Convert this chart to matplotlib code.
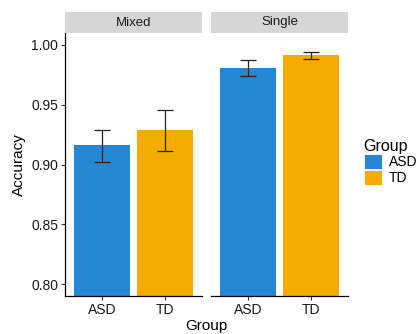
import matplotlib
matplotlib.use("Agg")
import matplotlib.pyplot as plt
from matplotlib.patches import Patch

plt.rcParams['font.family'] = ['Liberation Sans', 'DejaVu Sans']

# data
panels = ["Mixed", "Single"]
groups = ["ASD", "TD"]
acc_mixed = [0.916, 0.929]
lo_mixed = [0.902, 0.9115]
hi_mixed = [0.929, 0.946]
acc_single = [0.981, 0.992]
lo_single = [0.974, 0.988]
hi_single = [0.987, 0.994]
colors = ["#2688D3", "#F4AC00"]
yticks = [0.80, 0.85, 0.90, 0.95, 1.00]

W, H = 419, 334
fig = plt.figure(figsize=(W / 100, H / 100), dpi=100)

def px_axes(l, r, b, t):
    return fig.add_axes([l / W, 1 - b / H, (r - l) / W, (b - t) / H])

ax1 = px_axes(65, 202, 296, 33)
ax2 = px_axes(211, 348, 296, 33)

data = [(acc_mixed, lo_mixed, hi_mixed), (acc_single, lo_single, hi_single)]

for i, (ax, name, (acc, lo, hi)) in enumerate(zip([ax1, ax2], panels, data)):
    x = [1, 2]
    ax.bar(x, acc, width=0.9, color=colors, bottom=0)
    yerr = [[a - l for a, l in zip(acc, lo)], [h - a for a, h in zip(acc, hi)]]
    ax.errorbar(x, acc, yerr=yerr, fmt="none", ecolor="#222222",
                elinewidth=0.9, capsize=5.5, capthick=0.9)
    ax.set_xlim(0.4, 2.6)
    ax.set_ylim(0.79, 1.01)
    ax.set_xticks(x)
    ax.set_xticklabels(groups, fontsize=10, color="#1a1a1a")
    ax.set_yticks(yticks)
    ax.set_yticklabels(["%.2f" % v for v in yticks], fontsize=10, color="#1a1a1a")
    ax.tick_params(length=3, width=0.8, color="#333333", pad=2)
    for s in ["top", "right"]:
        ax.spines[s].set_visible(False)
    ax.spines["bottom"].set_linewidth(0.9)
    ax.spines["left"].set_linewidth(0.9)
    if i == 1:
        ax.spines["left"].set_visible(False)
        ax.tick_params(axis="y", left=False, labelleft=False)
    # facet strip on top
    strip = px_axes(65 + i * 146, 202 + i * 146, 33, 12)
    strip.set_xticks([])
    strip.set_yticks([])
    for s in strip.spines.values():
        s.set_visible(False)
    strip.set_facecolor("#D6D6D6")
    strip.text(0.5, 0.5, name, ha="center", va="center", fontsize=9.5,
               color="#1a1a1a", transform=strip.transAxes)

ax1.set_ylabel("Accuracy", fontsize=11, labelpad=4)
fig.text(206.5 / W, 1 - 326 / H, "Group", ha="center", va="center", fontsize=11)

handles = [Patch(facecolor=c, edgecolor="white", linewidth=0.6) for c in colors]
leg = fig.legend(handles, groups, title="Group", loc="upper left",
                 bbox_to_anchor=(358 / W, 1 - 133 / H), frameon=False,
                 fontsize=10, title_fontsize=11.5, handlelength=1.3,
                 handleheight=1.25, labelspacing=0.05, handletextpad=0.5,
                 borderaxespad=0)
leg._legend_box.align = "left"

fig.savefig("out.png", dpi=100)
